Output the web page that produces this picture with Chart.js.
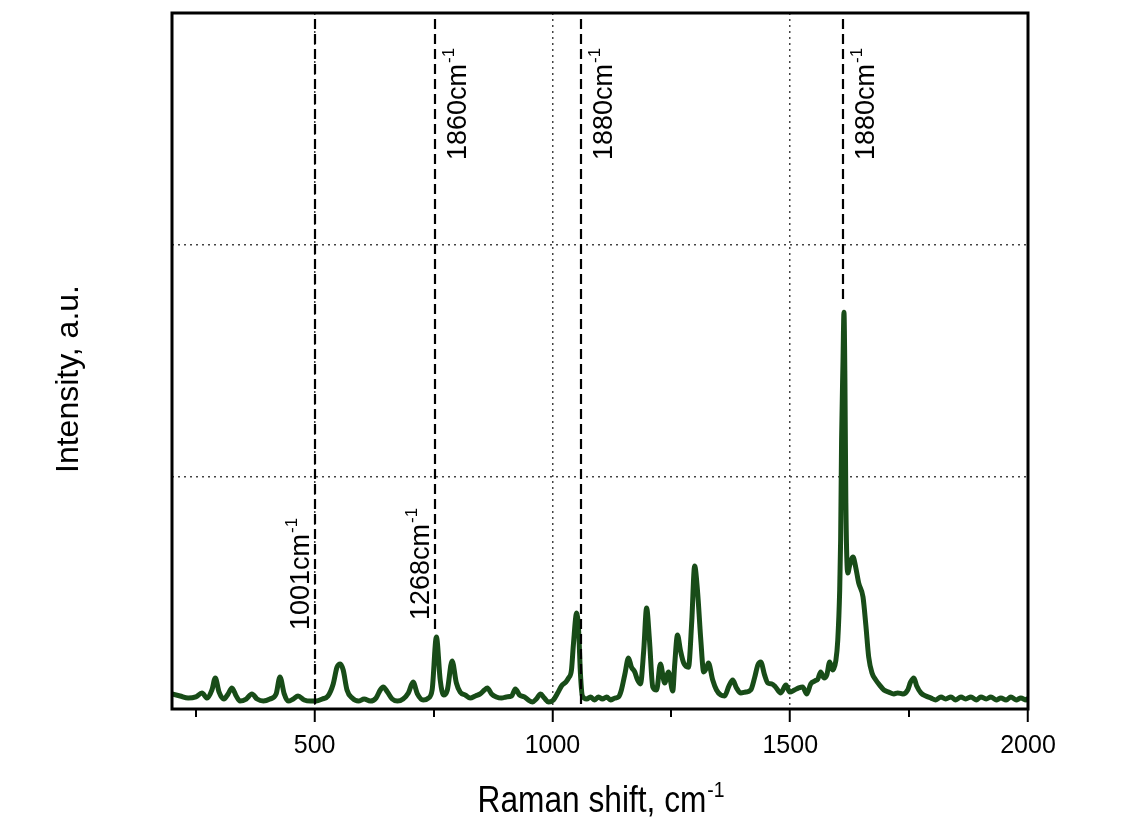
<!DOCTYPE html>
<html>
<head>
<meta charset="utf-8">
<script src="https://cdn.jsdelivr.net/npm/chart.js@4.4.1/dist/chart.umd.min.js"></script>
<style>
  html, body { margin: 0; padding: 0; background: #fff; }
  #wrap { width: 1140px; height: 825px; }
</style>
</head>
<body>
<div id="wrap"><canvas id="chart" width="1140" height="825"></canvas></div>
<script>
// Raman spectrum (shift in cm-1, intensity in a.u.)
const shift = [200, 217, 234, 250, 263, 274, 284, 291, 299, 309, 318, 326, 335, 343, 356, 368, 379, 392, 406, 419,
  427, 436, 444, 455, 465, 478, 491, 503, 516, 528, 539, 547, 554, 560, 568, 579, 592, 604, 617, 629,
  638, 644, 653, 663, 674, 686, 697, 707, 716, 728, 739, 747, 756, 764, 771, 779, 789, 798, 806, 817,
  827, 838, 848, 857, 863, 872, 882, 893, 903, 914, 922, 931, 941, 949, 958, 966, 975, 983, 992, 1002,
  1011, 1019, 1028, 1034, 1040, 1044, 1051, 1055, 1059, 1063, 1072, 1080, 1088, 1097, 1105, 1114, 1122, 1131, 1139, 1145,
  1152, 1160, 1166, 1173, 1179, 1185, 1192, 1198, 1204, 1211, 1219, 1227, 1236, 1244, 1253, 1257, 1263, 1269, 1276, 1286,
  1293, 1299, 1305, 1312, 1318, 1324, 1328, 1337, 1345, 1354, 1362, 1371, 1379, 1387, 1396, 1406, 1417, 1425, 1432, 1438,
  1446, 1453, 1461, 1469, 1480, 1491, 1499, 1509, 1518, 1526, 1535, 1543, 1552, 1558, 1564, 1571, 1577, 1583, 1589, 1596,
  1600, 1604, 1606, 1608, 1611, 1613, 1615, 1617, 1621, 1625, 1632, 1638, 1644, 1653, 1659, 1665, 1672, 1680, 1688, 1697,
  1707, 1718, 1726, 1737, 1747, 1753, 1760, 1766, 1775, 1785, 1796, 1806, 1817, 1827, 1838, 1848, 1859, 1869, 1880, 1891,
  1901, 1912, 1922, 1933, 1943, 1954, 1964, 1975, 1985, 1996, 2000]
const intensity = [6.5, 5.6, 4.7, 5.2, 6.9, 4.7, 8.2, 13.4, 7.3, 4.3, 6.5, 9.1, 5.6, 3.4, 4.3, 6.5, 4.3, 3.4, 4.3, 6.5,
  13.8, 6.5, 3.4, 4.3, 5.6, 3.9, 3.4, 3.4, 4.3, 5.6, 10.8, 18, 19.4, 16.8, 8.2, 4.7, 3.4, 4.3, 3.4, 4.7,
  8.2, 9.5, 7.3, 4.3, 3.4, 4.3, 6.9, 11.6, 6.5, 3.9, 4.7, 8.2, 31, 12.5, 6, 8.2, 20.7, 11.2, 7.3, 6,
  4.7, 5.6, 6.5, 8.2, 9.1, 6.5, 5.2, 4.7, 5.2, 5.6, 8.6, 6, 5.2, 3.9, 3, 4.3, 6.5, 4.7, 3, 3.9,
  6.9, 9.9, 11.6, 13.4, 16.8, 27.6, 41.4, 34, 14.7, 5.6, 4.3, 5.2, 3.9, 5.2, 4.3, 5.2, 3.9, 4.7, 5.2, 8.2,
  14.7, 22, 18.1, 16, 12.5, 10.8, 25.4, 43.5, 29.7, 9.5, 8.2, 19.4, 11.2, 16, 7.8, 19, 31.9, 25.4, 19.8, 18,
  38, 61.6, 51, 29.7, 16, 17.7, 19.8, 12.5, 8.2, 6, 5.6, 9.9, 12.5, 9.1, 6.9, 7.3, 8.2, 13.4, 19, 20.3,
  14.7, 11.2, 10.8, 9.5, 6.9, 10.3, 7.3, 8.2, 9.1, 9.5, 6.5, 10.8, 12.1, 12.9, 16, 13.4, 14.7, 20.3, 16.8, 21,
  29.7, 51, 72.8, 116, 150, 171, 142, 88.8, 58.6, 62, 65.5, 60.8, 54.3, 48.3, 36.2, 22.4, 15.5, 12.5, 10.3, 8.2,
  7.3, 6.5, 6.9, 6.5, 8.2, 11.6, 13.4, 9.9, 6.9, 5.6, 4.7, 3.9, 5.2, 4.3, 5.2, 3.9, 5.2, 4.3, 5.2, 3.9,
  5.2, 4.3, 5.2, 3.9, 4.7, 3.9, 5.2, 3.9, 4.7, 3.9, 4.7]

const xTicks = [500, 1000, 1500, 2000]
const xMinorTicks = [250, 750, 1250, 1750]
const xGridAt = [500, 1000, 1500]
const yGridAt = [100, 200]

// marked peaks: vertical dashed lines and their labels
const peakLines = [500, 752, 1059, 1611]
const peakLineEnds = [0, 34, 0, 175]   // intensity where the line stops, 0 = down to the axis
const peakLabels = ['1001cm', '1268cm', '1860cm', '1880cm', '1880cm']
const peakLabelAt = [500, 752, 752, 1059, 1611]
const peakLabelSide = ['left', 'left', 'right', 'right', 'right']

const SANS = '"Liberation Sans", Arial, sans-serif'

function upText(ctx, text, sup, bx, by, size, supSize, rise) {
  ctx.save()
  ctx.translate(bx, by)
  ctx.rotate(-Math.PI / 2)
  ctx.textAlign = 'left'
  ctx.textBaseline = 'alphabetic'
  ctx.font = size + 'px ' + SANS
  ctx.fillText(text, 0, 0)
  const w = ctx.measureText(text).width
  ctx.font = supSize + 'px ' + SANS
  ctx.fillText(sup, w + 1, -rise)
  ctx.restore()
}

const decorations = {
  id: 'decorations',
  afterDraw(chart) {
    const { ctx, chartArea: a, scales: { x, y } } = chart
    ctx.save()
    ctx.strokeStyle = '#000'
    ctx.fillStyle = '#000'

    ctx.lineWidth = 2.2
    ctx.setLineDash([10, 5])
    peakLines.forEach((w, i) => {
      const px = Math.round(x.getPixelForValue(w))
      const end = peakLineEnds[i] ? y.getPixelForValue(peakLineEnds[i]) : a.bottom
      ctx.beginPath()
      ctx.moveTo(px, a.top + 6)
      ctx.lineTo(px, end)
      ctx.stroke()
    })
    ctx.setLineDash([])

    ctx.lineWidth = 2
    xMinorTicks.forEach(w => {
      const px = Math.round(x.getPixelForValue(w))
      ctx.beginPath()
      ctx.moveTo(px, a.bottom)
      ctx.lineTo(px, a.bottom + 8)
      ctx.stroke()
    })

    ctx.lineWidth = 3
    ctx.strokeRect(a.left, a.top, a.right - a.left, a.bottom - a.top)

    peakLabels.forEach((t, i) => {
      const px = x.getPixelForValue(peakLabelAt[i])
      if (peakLabelSide[i] === 'left') {
        const by = i === 0 ? a.bottom - 79 : a.bottom - 89
        upText(ctx, t, '-1', px - 6, by, 27, 17, 12)
      } else {
        upText(ctx, t, '-1', px + 31, a.top + 147, 27, 17, 12)
      }
    })

    // x title, a little condensed like the original
    const cx = (a.left + a.right) / 2 + 1
    ctx.save()
    ctx.translate(cx, 812)
    ctx.scale(0.88, 1)
    ctx.textBaseline = 'alphabetic'
    ctx.textAlign = 'left'
    const main = 'Raman shift, cm'
    ctx.font = '36px ' + SANS
    const mw = ctx.measureText(main).width
    ctx.font = '22px ' + SANS
    const sw = ctx.measureText('-1').width
    const sx = -(mw + sw + 1) / 2
    ctx.font = '36px ' + SANS
    ctx.fillText(main, sx, 0)
    ctx.font = '22px ' + SANS
    ctx.fillText('-1', sx + mw + 1, -15)
    ctx.restore()

    ctx.save()
    ctx.translate(78, 379)
    ctx.rotate(-Math.PI / 2)
    ctx.textAlign = 'center'
    ctx.font = '32px ' + SANS
    ctx.fillText('Intensity, a.u.', 0, 0)
    ctx.restore()

    ctx.restore()
  }
}

new Chart(document.getElementById('chart'), {
  type: 'line',
  data: {
    datasets: [{
      data: shift.map((s, i) => ({ x: s, y: intensity[i] })),
      borderColor: '#184c18',
      borderWidth: 5,
      pointRadius: 0,
      cubicInterpolationMode: 'monotone',
      fill: false
    }]
  },
  options: {
    responsive: false,
    animation: false,
    layout: { padding: { left: 0, right: 112, top: 13, bottom: 0 } },
    plugins: { legend: { display: false }, tooltip: { enabled: false } },
    scales: {
      x: {
        type: 'linear',
        min: 200,
        max: 2000,
        afterBuildTicks: s => { s.ticks = xTicks.map(v => ({ value: v })) },
        afterFit: s => { s.height = 116 },
        ticks: { color: '#000', font: { family: SANS, size: 25 }, padding: 9, maxRotation: 0, callback: v => String(v) },
        grid: {
          color: c => xGridAt.includes(c.tick && c.tick.value) ? '#444' : 'rgba(0,0,0,0)',
          lineWidth: 1.5,
          tickColor: '#000',
          tickWidth: 2,
          tickLength: 13
        },
        border: { display: false, dash: [2, 4] }
      },
      y: {
        min: 0,
        max: 300,
        afterFit: s => { s.width = 172 },
        ticks: { display: false, stepSize: 100 },
        grid: {
          color: c => yGridAt.includes(c.tick && c.tick.value) ? '#444' : 'rgba(0,0,0,0)',
          lineWidth: 1.5,
          drawTicks: false
        },
        border: { display: false, dash: [2, 4] }
      }
    }
  },
  plugins: [decorations]
})
</script>
</body>
</html>
